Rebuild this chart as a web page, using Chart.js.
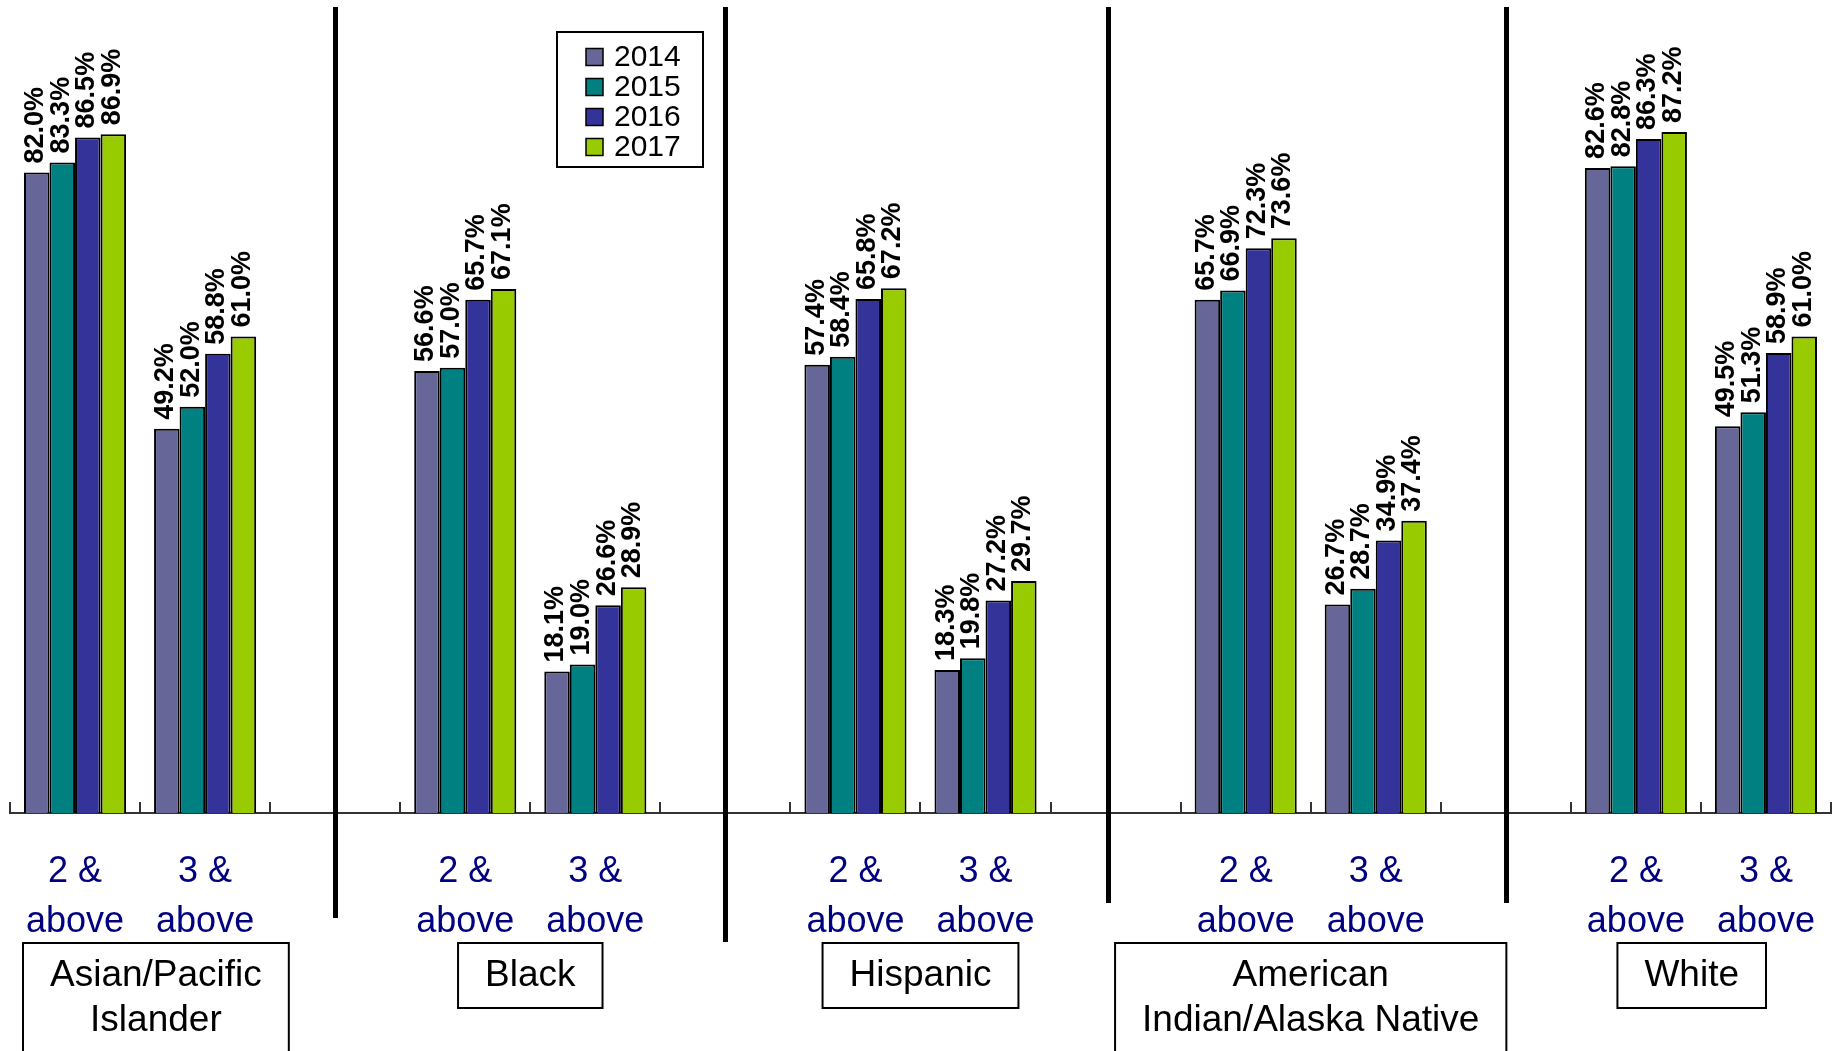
<!DOCTYPE html>
<html>
<head>
<meta charset="utf-8">
<script src="https://cdn.jsdelivr.net/npm/chart.js@4.4.1/dist/chart.umd.min.js"></script>
<style>
    html, body { margin: 0; padding: 0; background: #fff; }
    #wrap { width: 1835px; height: 1051px; }
</style>
</head>
<body>
<div id="wrap"><canvas id="chart"></canvas></div>
<script>
// groups and the two levels shown under each group
const groups = [['Asian/Pacific', 'Islander'], ['Black'], ['Hispanic'], ['American', 'Indian/Alaska Native'], ['White']];
const levels = [['2 &', 'above'], ['3 &', 'above']];
const years = ['2014', '2015', '2016', '2017'];

// values per year, order: group1 2&, group1 3&, group2 2&, ...
const y2014 = [82.0, 49.2, 56.6, 18.1, 57.4, 18.3, 65.7, 26.7, 82.6, 49.5];
const y2015 = [83.3, 52.0, 57.0, 19.0, 58.4, 19.8, 66.9, 28.7, 82.8, 51.3];
const y2016 = [86.5, 58.8, 65.7, 26.6, 65.8, 27.2, 72.3, 34.9, 86.3, 58.9];
const y2017 = [86.9, 61.0, 67.1, 28.9, 67.2, 29.7, 73.6, 37.4, 87.2, 61.0];

const colors = ['#666699', '#008080', '#333399', '#99CC00'];
const FONT = "'Liberation Sans', Arial, sans-serif";

// 2 levels + one blank slot between groups
const categories = [];
groups.forEach(function (g, gi) {
    levels.forEach(function (l) { categories.push(l); });
    if (gi < groups.length - 1) categories.push('');
});

function spread(values) {
    const out = [];
    let k = 0;
    groups.forEach(function (g, gi) {
        levels.forEach(function () { out.push(values[k++]); });
        if (gi < groups.length - 1) out.push(null);
    });
    return out;
}

const datasets = [y2014, y2015, y2016, y2017].map(function (vals, i) {
    return {
        label: years[i],
        data: spread(vals),
        backgroundColor: colors[i],
        borderColor: '#000',
        borderWidth: 2,
        barPercentage: 1,
        categoryPercentage: 0.785
    };
});

const decorPlugin = {
    id: 'decor',
    afterDatasetsDraw(chart) {
        const ctx = chart.ctx;
        const x = chart.scales.x;
        const area = chart.chartArea;
        const step = x.getPixelForValue(1) - x.getPixelForValue(0);

        // small upward ticks between categories
        ctx.save();
        ctx.strokeStyle = '#333';
        ctx.lineWidth = 2;
        for (let i = 0; i <= categories.length; i++) {
            const px = Math.round(x.getPixelForValue(0) - step / 2 + i * step);
            ctx.beginPath();
            ctx.moveTo(px, area.bottom);
            ctx.lineTo(px, area.bottom - 11);
            ctx.stroke();
        }
        ctx.restore();

        // value labels, rotated
        ctx.save();
        ctx.font = 'bold 27px ' + FONT;
        ctx.fillStyle = '#000';
        ctx.textAlign = 'left';
        ctx.textBaseline = 'middle';
        chart.data.datasets.forEach(function (ds, di) {
            chart.getDatasetMeta(di).data.forEach(function (bar, i) {
                const v = ds.data[i];
                if (v === null || v === undefined) return;
                ctx.save();
                ctx.translate(bar.x - 1, bar.y - 9);
                ctx.rotate(-Math.PI / 2);
                ctx.fillText(v.toFixed(1) + '%', 0, 0);
                ctx.restore();
            });
        });
        ctx.restore();

        // vertical separators in the blank slots
        const sepBottoms = [918, 942, 903, 903];
        const sepShift = [0, 0, -8, 0];
        ctx.save();
        ctx.fillStyle = '#000';
        let s = 0;
        categories.forEach(function (c, i) {
            if (c !== '') return;
            const px = x.getPixelForValue(i) + sepShift[s];
            ctx.fillRect(Math.round(px) - 2, 7, 5, sepBottoms[s] - 7);
            s++;
        });
        ctx.restore();

        // legend box
        const lx = 557, ly = 32, lw = 146, lh = 135;
        ctx.save();
        ctx.fillStyle = '#fff';
        ctx.fillRect(lx, ly, lw, lh);
        ctx.strokeStyle = '#000';
        ctx.lineWidth = 2;
        ctx.strokeRect(lx, ly, lw, lh);
        ctx.font = '30px ' + FONT;
        ctx.textBaseline = 'middle';
        chart.data.datasets.forEach(function (ds, i) {
            const cy = ly + 25 + i * 30;
            ctx.fillStyle = ds.backgroundColor;
            ctx.fillRect(lx + 29, cy - 8.5, 17, 17);
            ctx.lineWidth = 1.5;
            ctx.strokeRect(lx + 29, cy - 8.5, 17, 17);
            ctx.fillStyle = '#000';
            ctx.fillText(ds.label, lx + 57, cy + 1);
        });
        ctx.restore();

        // group name boxes under the axis
        ctx.save();
        ctx.font = '37px ' + FONT;
        ctx.textAlign = 'center';
        ctx.textBaseline = 'middle';
        ctx.strokeStyle = '#000';
        ctx.lineWidth = 2;
        groups.forEach(function (lines, gi) {
            const first = gi * (levels.length + 1);
            const cx = (x.getPixelForValue(first) + x.getPixelForValue(first + levels.length - 1)) / 2;
            const tw = Math.max.apply(null, lines.map(function (t) { return ctx.measureText(t).width; }));
            const w = tw + 54;
            let left = cx - w / 2;
            left = Math.max(left, area.left + 13);
            left = Math.min(left, area.right - 65 - w);
            const top = 943;
            const h = 65 + (lines.length - 1) * 47;
            ctx.strokeRect(left, top, w, h);
            ctx.fillStyle = '#000';
            lines.forEach(function (t, li) {
                ctx.fillText(t, left + w / 2, top + 33 + li * 45);
            });
        });
        ctx.restore();
    }
};

new Chart(document.getElementById('chart'), {
    type: 'bar',
    data: {
        labels: categories,
        datasets: datasets
    },
    options: {
        responsive: true,
        maintainAspectRatio: false,
        animation: false,
        layout: {
            padding: { top: 32, left: 10, right: 4, bottom: 104 }
        },
        scales: {
            x: {
                grid: {
                    display: true,
                    drawOnChartArea: false,
                    drawTicks: true,
                    tickLength: 34,
                    tickColor: 'rgba(0,0,0,0)'
                },
                border: { display: true, color: '#333', width: 2 },
                ticks: {
                    autoSkip: false,
                    maxRotation: 0,
                    minRotation: 0,
                    padding: 0,
                    color: '#000080',
                    font: { family: FONT, size: 36, lineHeight: 1.39 }
                }
            },
            y: {
                display: false,
                min: 0,
                max: 100
            }
        },
        plugins: {
            legend: { display: false },
            tooltip: { enabled: false }
        }
    },
    plugins: [decorPlugin]
});
</script>
</body>
</html>
